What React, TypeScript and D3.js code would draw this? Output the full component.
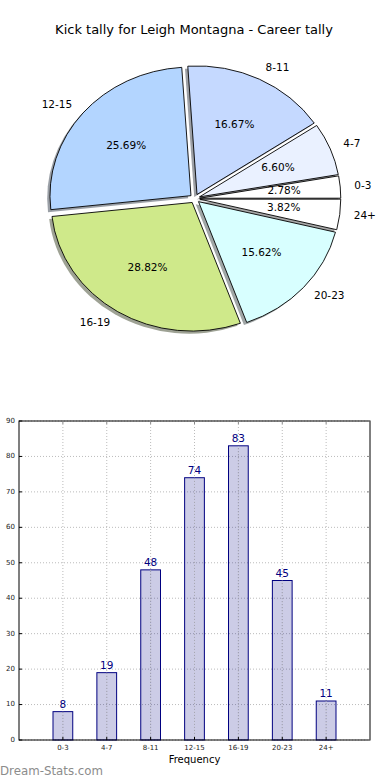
import React from "react";
import * as d3 from "d3";

const categories = ["0-3", "4-7", "8-11", "12-15", "16-19", "20-23", "24+"];
const values = [8, 19, 48, 74, 83, 45, 11];
const pieColors = ["#ffffff", "#eaf1ff", "#c5d9ff", "#b3d5ff", "#cfe98a", "#d8ffff", "#ffffff"];
const yTicks = [0, 10, 20, 30, 40, 50, 60, 70, 80, 90];

const W = 390;
const H = 780;
const FONT = "DejaVu Sans, sans-serif";

// Python-style "%1.2f" (round half to even on exact halves)
function fmt2(v: number): string {
  const s = v * 100;
  const f = Math.floor(s);
  const diff = s - f;
  let r: number;
  if (Math.abs(diff - 0.5) < 1e-9) r = f % 2 === 0 ? f : f + 1;
  else r = Math.round(s);
  return (r / 100).toFixed(2);
}

export default function App() {
  const cx = 194.8;
  const cy = 198.6;
  const R = 141;
  const ky = 128.6 / 141;
  const explode = 5;
  const total = d3.sum(values);

  const pie = d3
    .pie<number>()
    .sort(null)
    .startAngle(Math.PI / 2)
    .endAngle(Math.PI / 2 - 2 * Math.PI);
  const arcs = pie(values);
  const arcGen = d3.arc<d3.PieArcDatum<number>>().innerRadius(0).outerRadius(R);

  const wedges = arcs.map((a, i) => {
    const mid = (a.startAngle + a.endAngle) / 2;
    const dx = Math.sin(mid);
    const dy = -Math.cos(mid);
    return { a, i, dx, dy, ox: explode * dx, oy: explode * dy };
  });

  const x = d3.scaleLinear().domain([-1, 7]).range([19, 370]);
  const y = d3.scaleLinear().domain([0, 90]).range([740, 421]);
  const barW = 0.45 * (x(1) - x(0));

  return (
    <svg width={W} height={H} style={{ position: "absolute", left: 0, top: 0 }} fontFamily={FONT}>
      <rect width={W} height={H} fill="#ffffff" />
      <text x={194} y={30} textAnchor="middle" dominantBaseline="middle" fontSize={13} fill="#000">
        Kick tally for Leigh Montagna - Career tally
      </text>

      <g transform={`translate(${cx},${cy}) scale(1,${ky})`}>
        {wedges.map((w) => {
          const c = d3.color(pieColors[w.i])!.rgb();
          const fill = `rgba(${Math.round(c.r * 0.3)},${Math.round(c.g * 0.3)},${Math.round(c.b * 0.3)},0.5)`;
          return (
            <path
              key={"s" + w.i}
              d={arcGen(w.a) || ""}
              transform={`translate(${w.ox - 2.8},${w.oy + 2.8})`}
              fill={fill}
              stroke="none"
            />
          );
        })}
        {wedges.map((w) => (
          <path
            key={"w" + w.i}
            d={arcGen(w.a) || ""}
            transform={`translate(${w.ox},${w.oy})`}
            fill={pieColors[w.i]}
            stroke="#000"
            strokeWidth={0.9}
            vectorEffect="non-scaling-stroke"
          />
        ))}
      </g>
      {wedges.map((w) => {
        const lx = cx + w.ox + 1.1 * R * w.dx;
        const ly = cy + (w.oy + 1.1 * R * w.dy) * ky;
        const px = cx + w.ox + 0.6 * R * w.dx;
        const py = cy + (w.oy + 0.6 * R * w.dy) * ky;
        const pct = fmt2((values[w.i] / total) * 100) + "%";
        return (
          <g key={"l" + w.i}>
            <text
              x={lx}
              y={ly}
              textAnchor={w.dx > 0 ? "start" : "end"}
              dominantBaseline="middle"
              fontSize={10.5}
              fill="#000"
            >
              {categories[w.i]}
            </text>
            <text x={px} y={py} textAnchor="middle" dominantBaseline="middle" fontSize={10.5} fill="#000">
              {pct}
            </text>
          </g>
        );
      })}

      <g>
        {yTicks.map((t) => (
          <line key={"gy" + t} x1={x(-1)} x2={x(7)} y1={y(t)} y2={y(t)} stroke="#bbbbbb" strokeWidth={1} strokeDasharray="1,2" />
        ))}
        {categories.map((c, i) => (
          <line key={"gx" + c} x1={x(i)} x2={x(i)} y1={y(0)} y2={y(90)} stroke="#bbbbbb" strokeWidth={1} strokeDasharray="1,2" />
        ))}
        {values.map((v, i) => (
          <g key={"b" + i}>
            <rect
              x={x(i) - barW / 2}
              y={y(v)}
              width={barW}
              height={y(0) - y(v)}
              fill="rgba(0,0,128,0.2)"
              stroke="#000080"
              strokeWidth={1}
            />
            <line x1={x(i)} x2={x(i)} y1={y(v)} y2={y(0)} stroke="#bbbbbb" strokeWidth={1} strokeDasharray="1,2" opacity={0.7} />
            <text x={x(i)} y={y(v) - 4} textAnchor="middle" fontSize={10.5} fill="#000080">
              {v}
            </text>
          </g>
        ))}
        <rect x={x(-1)} y={y(90)} width={x(7) - x(-1)} height={y(0) - y(90)} fill="none" stroke="#000" strokeWidth={1} />
        {yTicks.map((t) => (
          <g key={"ty" + t}>
            <line x1={x(-1)} x2={x(-1) + 3} y1={y(t)} y2={y(t)} stroke="#000" />
            <line x1={x(7) - 3} x2={x(7)} y1={y(t)} y2={y(t)} stroke="#888" />
            <text x={15} y={y(t)} textAnchor="end" dominantBaseline="middle" fontSize={7} fill="#222">
              {t}
            </text>
          </g>
        ))}
        {categories.map((c, i) => (
          <g key={"tx" + c}>
            <line x1={x(i)} x2={x(i)} y1={y(0)} y2={y(0) - 3} stroke="#000" />
            <line x1={x(i)} x2={x(i)} y1={y(90)} y2={y(90) + 3} stroke="#888" />
            <text x={x(i)} y={748} textAnchor="middle" dominantBaseline="middle" fontSize={7} fill="#222">
              {c}
            </text>
          </g>
        ))}
        <text x={194.5} y={760} textAnchor="middle" dominantBaseline="middle" fontSize={10} fill="#000">
          Frequency
        </text>
      </g>

      <text x={0} y={771} dominantBaseline="middle" fontSize={11.8} fill="#8c8c8c">
        Dream-Stats.com
      </text>
    </svg>
  );
}
